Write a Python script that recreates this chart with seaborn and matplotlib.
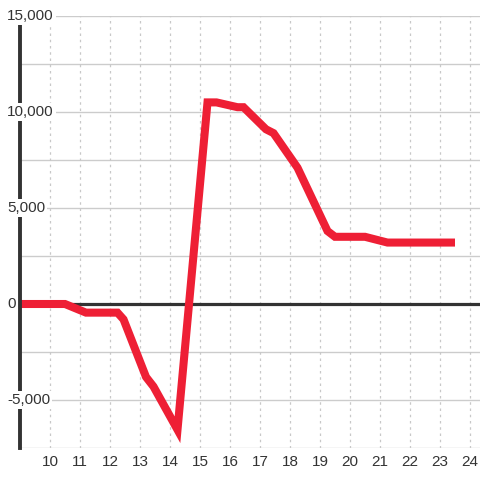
import matplotlib
matplotlib.use("Agg")
import matplotlib.pyplot as plt
import pandas as pd
import seaborn as sns

# values
hours = [9.0, 10.5, 11.2, 12.25, 12.45, 13.2, 13.45, 14.25, 15.25, 15.55,
         16.25, 16.45, 17.2, 17.45, 18.25, 19.25, 19.5, 20.5, 21.25, 23.5]
values = [0, 0, -450, -450, -800, -3800, -4300, -6550, 10500, 10500,
          10250, 10250, 9100, 8900, 7100, 3800, 3500, 3500, 3200, 3200]

y_ticks = [-5000, 0, 5000, 10000, 15000]
y_grid = [-7500, -5000, -2500, 0, 2500, 5000, 7500, 10000, 12500, 15000]
x_ticks = list(range(10, 25))

df = pd.DataFrame({"hour": hours, "value": values})

bg = "white"
sns.set_style("white")
plt.rcParams["font.family"] = ["Liberation Sans", "DejaVu Sans"]

fig = plt.figure(figsize=(4.8, 4.8), dpi=100, facecolor=bg)
ax = fig.add_axes([20 / 480, 32 / 480, 460 / 480, 432 / 480], facecolor=bg)

# grid
for g in y_grid:
    ax.axhline(g, color="#cccccc", lw=1, zorder=1)
for t in x_ticks:
    ax.axvline(t, color="#c8c8c8", lw=0.9, ls=(0, (2, 3)), zorder=1)

# zero line
ax.axhline(0, color="#333333", lw=2.3, zorder=2)

sns.lineplot(data=df, x="hour", y="value", color="#ee1f35", lw=5.8,
             solid_capstyle="butt", solid_joinstyle="miter", ax=ax, zorder=3)

ax.set_xlim(9, 9 + 460 / 30)
ax.set_ylim(-7500, 15000)
for s in ["top", "right", "bottom"]:
    ax.spines[s].set_visible(False)
ax.spines["left"].set_color("#333333")
ax.spines["left"].set_linewidth(2.8)
ax.spines["left"].set_zorder(4)

ax.set_xticks(x_ticks)
ax.set_xticklabels([str(t) for t in x_ticks])
ax.tick_params(axis="x", length=0, pad=5, labelsize=11, labelcolor="#333333")
ax.set_yticks([])
ax.set_xlabel("")
ax.set_ylabel("")

# y labels sit over the axis with a background box
for v in y_ticks:
    ax.text(9 - 13 / 30, v, f"{v:,}", ha="left", va="center", fontsize=11,
            color="#333333", zorder=6, clip_on=False,
            bbox=dict(facecolor=bg, edgecolor="none", pad=1.5))

fig.savefig("out.png", dpi=100, facecolor=bg)
